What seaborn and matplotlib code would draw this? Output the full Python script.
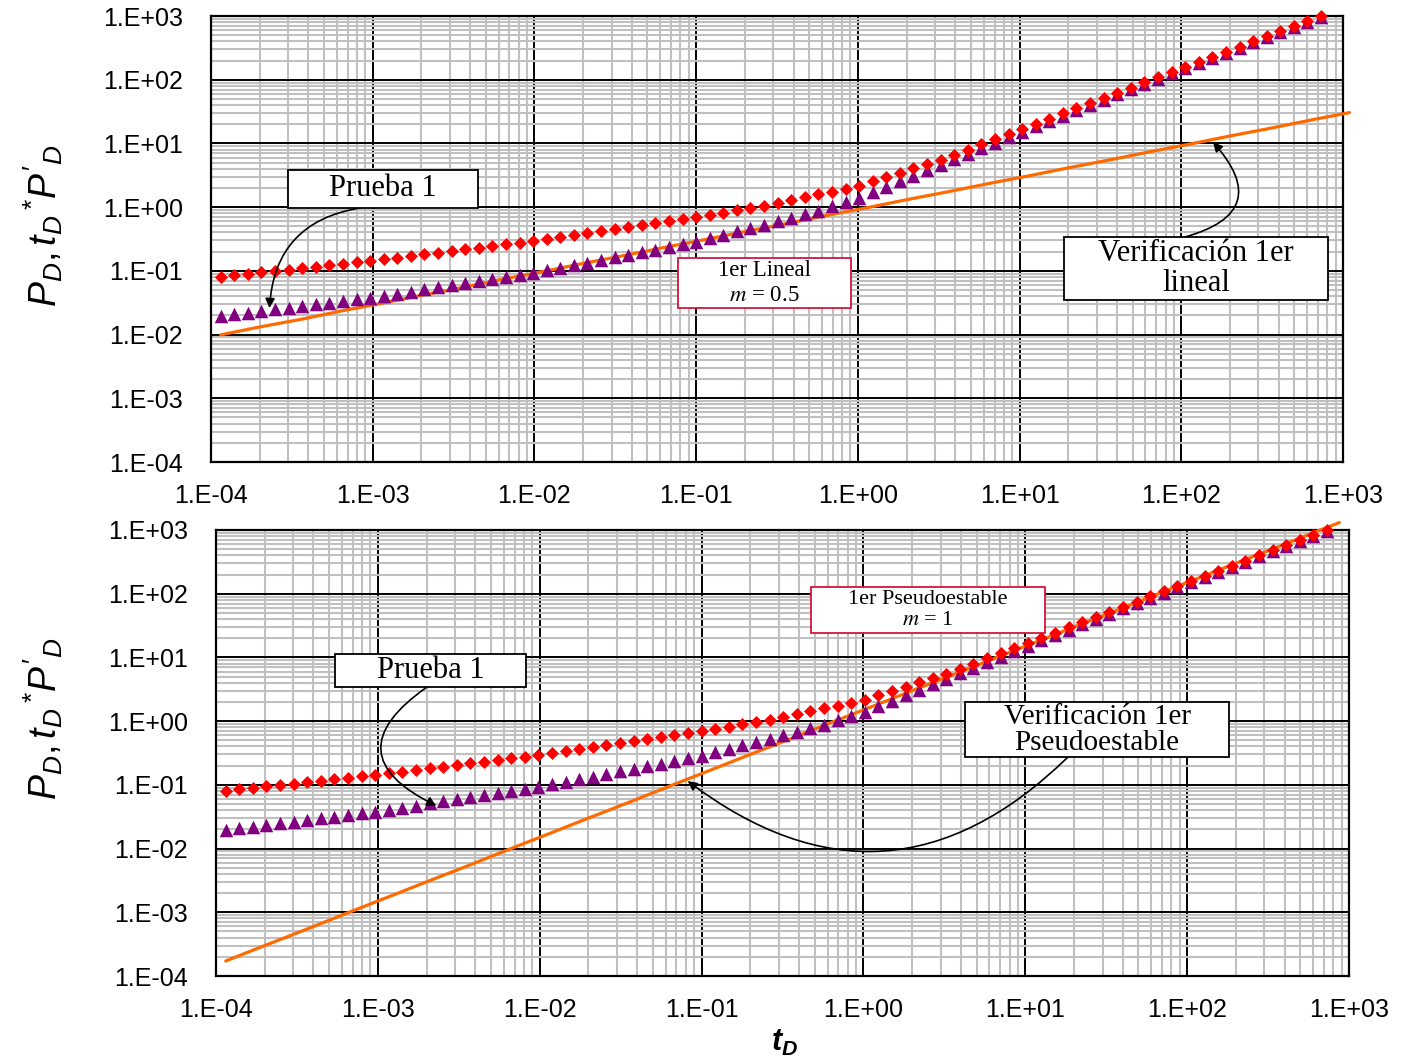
import numpy as np
import pandas as pd
import matplotlib
matplotlib.use("Agg")
import matplotlib.pyplot as plt
import seaborn as sns
from matplotlib.patches import Rectangle
from matplotlib.ticker import LogLocator, FixedLocator, NullFormatter

# ---------------- data ----------------
t_D = [1.148e-4, 1.393e-4, 1.690e-4, 2.051e-4, 2.489e-4, 3.020e-4, 3.664e-4, 4.446e-4, 5.395e-4, 6.546e-4, 7.943e-4, 9.638e-4,
       1.169e-3, 1.419e-3, 1.722e-3, 2.089e-3, 2.535e-3, 3.076e-3, 3.733e-3, 4.529e-3, 5.495e-3, 6.668e-3, 8.091e-3, 9.817e-3,
       1.191e-2, 1.445e-2, 1.754e-2, 2.128e-2, 2.582e-2, 3.133e-2, 3.802e-2, 4.613e-2, 5.598e-2, 6.792e-2, 8.241e-2, 0.1,
       0.1213, 0.1472, 0.1786, 0.2168, 0.2630, 0.3192, 0.3873, 0.4699, 0.5702, 0.6918, 0.8395, 1.019,
       1.236, 1.500, 1.820, 2.208, 2.679, 3.251, 3.945, 4.786, 5.808, 7.047, 8.551, 10.38,
       12.59, 15.28, 18.54, 22.49, 27.29, 33.11, 40.18, 48.75, 59.16, 71.78, 87.10, 105.7,
       128.2, 155.6, 188.8, 229.1, 278.0, 337.3, 409.3, 496.6, 602.6, 731.1]

P_D = [0.0809, 0.0852, 0.0897, 0.0945, 0.0995, 0.1047, 0.1103, 0.1161, 0.1223, 0.1288, 0.1356, 0.1428,
       0.1514, 0.1607, 0.1706, 0.1811, 0.1923, 0.2042, 0.2168, 0.2301, 0.2443, 0.2594, 0.2754, 0.2924,
       0.3133, 0.3373, 0.3622, 0.3890, 0.4178, 0.4498, 0.4831, 0.5188, 0.5572, 0.5998, 0.6442, 0.6918,
       0.753, 0.820, 0.893, 0.973, 1.059, 1.153, 1.282, 1.426, 1.581, 1.758, 1.954, 2.178,
       2.547, 2.972, 3.467, 4.046, 4.721, 5.540, 6.668, 8.017, 9.66, 11.60, 13.96, 16.85,
       20.31, 24.50, 29.54, 35.62, 42.96, 51.82, 62.48, 75.34, 90.85, 109.5, 132.1, 159.2,
       191.2, 229.8, 276.2, 331.9, 398.9, 479.3, 576.1, 692.2, 831.8, 999.5]

tD_PD_prime = [0.01954, 0.02076, 0.02205, 0.02343, 0.02488, 0.02642, 0.02807, 0.02981, 0.03167, 0.03364, 0.03572, 0.03795,
               0.04076, 0.04393, 0.04735, 0.05103, 0.05499, 0.05928, 0.06389, 0.06885, 0.07420, 0.07997, 0.08618, 0.09288,
               0.1019, 0.1119, 0.1230, 0.1352, 0.1485, 0.1632, 0.1791, 0.1968, 0.2163, 0.2377, 0.2612, 0.2871,
               0.3249, 0.3675, 0.4159, 0.4707, 0.5325, 0.6026, 0.6821, 0.7717, 0.8831, 1.028, 1.197, 1.401,
               1.710, 2.088, 2.549, 3.112, 3.800, 4.638, 5.664, 6.917, 8.440, 10.31, 12.59, 15.34,
               18.58, 22.50, 27.25, 33.00, 39.96, 48.41, 58.61, 71.00, 85.98, 104.1, 126.1, 152.4,
               183.5, 221.0, 266.1, 320.3, 385.8, 464.5, 559.2, 673.3, 810.6, 975.9]

# verification line, first linear flow (slope 1/2)
t_ver_lineal = [1.148e-4, 2.042e-4, 3.631e-4, 6.457e-4, 1.148e-3, 2.042e-3, 3.631e-3, 6.457e-3,
                1.148e-2, 2.042e-2, 3.631e-2, 6.457e-2, 0.1148, 0.2042, 0.3631, 0.6457,
                1.148, 2.042, 3.631, 6.457, 11.48, 20.42, 36.31, 64.57, 114.8, 204.2, 363.1, 645.7, 1096.0]
ver_lineal = [0.0099, 0.0133, 0.0174, 0.0236, 0.0310, 0.0418, 0.0552, 0.0744,
              0.0982, 0.1322, 0.1748, 0.2350, 0.3110, 0.4180, 0.5530, 0.7430,
              0.9840, 1.322, 1.748, 2.350, 3.110, 4.180, 5.530, 7.430, 9.840, 13.22, 17.48, 23.50, 30.46]

# verification line, first pseudo-steady state (slope 1)
t_ver_pseudo = [1.148e-4, 2.042e-4, 3.631e-4, 6.457e-4, 1.148e-3, 2.042e-3, 3.631e-3, 6.457e-3,
                1.148e-2, 2.042e-2, 3.631e-2, 6.457e-2, 0.1148, 0.2042, 0.3631, 0.6457,
                1.148, 2.042, 3.631, 6.457, 11.48, 20.42, 36.31, 64.57, 114.8, 204.2, 363.1, 645.7, 871.0]
ver_pseudo = [1.72e-4, 3.07e-4, 5.42e-4, 9.72e-4, 1.72e-3, 3.07e-3, 5.42e-3, 9.72e-3,
              1.72e-2, 3.07e-2, 5.42e-2, 9.72e-2, 0.172, 0.307, 0.542, 0.972,
              1.72, 3.07, 5.42, 9.72, 17.2, 30.7, 54.2, 97.2, 172.0, 307.0, 542.0, 972.0, 1306.0]

tick_values = [1e-4, 1e-3, 1e-2, 1e-1, 1e0, 1e1, 1e2, 1e3]
tick_labels = ["1.E-04", "1.E-03", "1.E-02", "1.E-01", "1.E+00", "1.E+01", "1.E+02", "1.E+03"]

# ---------------- style ----------------
sns.set_theme(style="white")
plt.rcParams['font.family'] = ['Liberation Sans', 'DejaVu Sans']
plt.rcParams['mathtext.fontset'] = 'custom'
plt.rcParams['mathtext.rm'] = 'Liberation Sans'
plt.rcParams['mathtext.it'] = 'Liberation Sans:italic'
plt.rcParams['mathtext.bf'] = 'Liberation Sans:bold'
plt.rcParams['mathtext.bfit'] = 'Liberation Sans:italic:bold'

W, H = 1401, 1056
fig = plt.figure(figsize=(W / 100, H / 100), dpi=100)
fig.patch.set_facecolor('white')
ax1 = fig.add_axes([211 / W, 1 - 462 / H, 1132 / W, 446 / H])
ax2 = fig.add_axes([216 / W, 1 - 976 / H, 1133 / W, 446 / H])

ORANGE = '#ff6a00'
PURPLE = '#800080'
RED = '#ff0000'
CRIMSON = '#d4163c'


def draw(ax, t_ver, ver):
    sns.lineplot(x=t_ver, y=ver, ax=ax, color=ORANGE, lw=2.3, zorder=3,
                 clip_on=False, legend=False, estimator=None, sort=False)
    sns.scatterplot(x=t_D, y=tD_PD_prime, ax=ax, marker='^', s=95, color=PURPLE,
                    linewidth=0, zorder=4, clip_on=False, legend=False)
    sns.scatterplot(x=t_D, y=P_D, ax=ax, marker='D', s=44, color=RED,
                    linewidth=0, zorder=5, clip_on=False, legend=False)
    ax.set_xscale('log')
    ax.set_yscale('log')
    ax.set_xlim(1e-4, 1e3)
    ax.set_ylim(1e-4, 1e3)
    for axis in (ax.xaxis, ax.yaxis):
        axis.set_major_locator(FixedLocator(tick_values))
        axis.set_minor_locator(LogLocator(base=10, subs=np.arange(2, 10), numticks=100))
        axis.set_minor_formatter(NullFormatter())
    ax.set_xticks(tick_values, tick_labels)
    ax.set_yticks(tick_values, tick_labels)
    ax.set_axisbelow(True)
    ax.grid(which='minor', color='#c0c0c0', lw=1.5)
    ax.grid(which='major', color='black', lw=1.4)
    ax.tick_params(which='both', length=0)
    ax.tick_params(axis='x', labelsize=18, pad=16, colors='black')
    ax.tick_params(axis='y', labelsize=18, pad=20, colors='black')
    for sp in ax.spines.values():
        sp.set_color('black')
        sp.set_linewidth(1.6)
    ax.set_xlabel('')
    ax.set_ylabel(r"$P_D, t_D\,^{*}P'_D$", fontsize=27, color='black')


draw(ax1, t_ver_lineal, ver_lineal)
draw(ax2, t_ver_pseudo, ver_pseudo)
ax1.yaxis.set_label_coords(-0.129, 0.531)
ax2.yaxis.set_label_coords(-0.133, 0.578)
ax2.set_xlabel(r"$\mathbfit{t}_{\mathbfit{D}}$", fontsize=22, color='black')
ax2.xaxis.set_label_coords(0.502, -0.117)


# ---------------- annotation boxes ----------------
def box(x0, y0, x1, y1, text, size, edge='black', ls=1.2):
    fig.add_artist(Rectangle((x0 / W, 1 - y1 / H), (x1 - x0) / W, (y1 - y0) / H,
                             transform=fig.transFigure, facecolor='white',
                             edgecolor=edge, lw=1.3, zorder=10))
    fig.text((x0 + x1) / 2 / W, 1 - (y0 + y1) / 2 / H, text, ha='center', va='center',
             multialignment='center', fontsize=size, family='Liberation Serif',
             math_fontfamily='stix', linespacing=ls, color='black', zorder=11)


def arrow(ax, xy, start, rad):
    ax.annotate('', xy=xy, xycoords='data', xytext=(start[0], H - start[1]),
                textcoords='figure pixels', annotation_clip=False, zorder=9,
                arrowprops=dict(arrowstyle='-|>', color='black', lw=1.2,
                                connectionstyle=f'arc3,rad={rad}',
                                shrinkA=0, shrinkB=0, mutation_scale=14))


# top chart
arrow(ax1, (2.3e-4, 0.026), (360, 208), 0.4)
arrow(ax1, (157, 10.5), (1185, 237), 0.8)
box(288, 170, 478, 208, "Prueba 1", 22)
box(678, 258, 851, 308, "1er Lineal\n$m$ = 0.5", 16.5, edge=CRIMSON, ls=1.3)
box(1064, 237, 1328, 300, "Verificación 1er\nlineal", 22, ls=1.08)

# bottom chart
arrow(ax2, (2.3e-3, 0.047), (427, 687), 0.85)
arrow(ax2, (0.082, 0.115), (1068, 757), -0.43)
box(811, 587, 1045, 633, "1er Pseudoestable\n$m$ = 1", 16, edge=CRIMSON, ls=1.15)
box(335, 654, 526, 687, "Prueba 1", 22)
box(965, 702, 1229, 757, "Verificación 1er\nPseudoestable", 21, ls=1.0)

fig.savefig('out.png', dpi=100, facecolor='white')
